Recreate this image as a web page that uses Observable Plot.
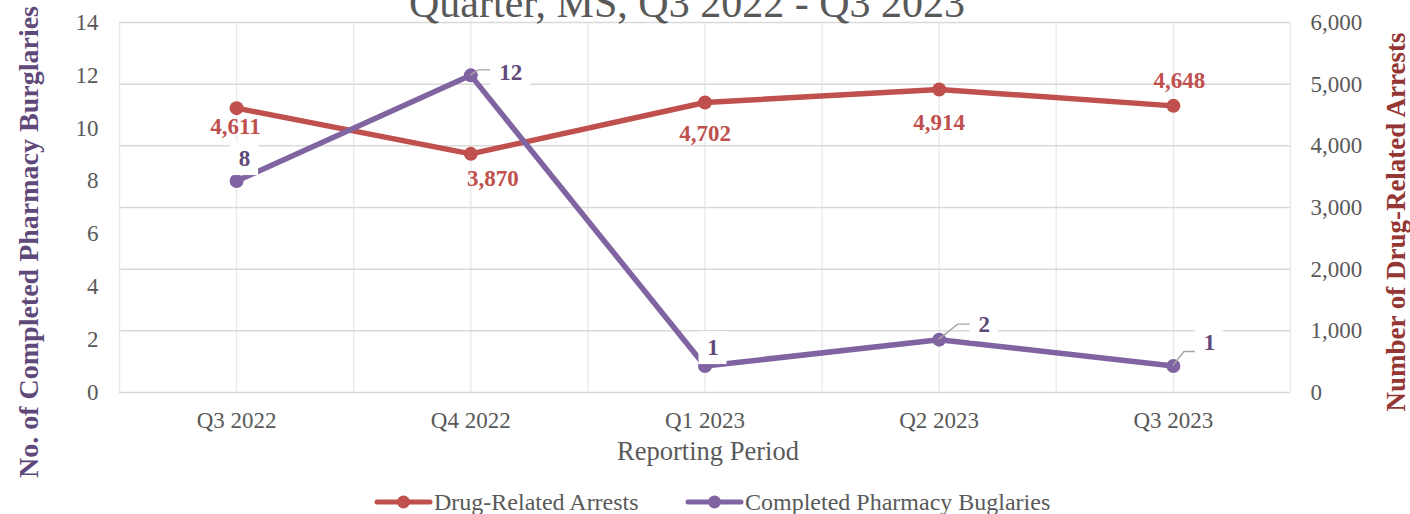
<!DOCTYPE html>
<html><head><meta charset="utf-8">
<script src="https://cdn.jsdelivr.net/npm/d3@7"></script>
<script src="https://cdn.jsdelivr.net/npm/@observablehq/plot@0.6"></script>
<style>body{margin:0;background:#fff}</style>
</head><body><div id="chart"></div>
<script>
const title = "Quarter, MS, Q3 2022 - Q3 2023";
const quarters = ["Q3 2022", "Q4 2022", "Q1 2023", "Q2 2023", "Q3 2023"];
const arrests = [4611, 3870, 4702, 4914, 4648];
const burglaries = [8, 12, 1, 2, 1];
const arrestTicks = [0, 1000, 2000, 3000, 4000, 5000, 6000];
const burglaryTicks = [0, 2, 4, 6, 8, 10, 12, 14];
const arrestMax = 6000, burglaryMax = 14;
const seriesNames = ["Drug-Related Arrests", "Completed Pharmacy Buglaries"];
const leftTitle = "No. of Completed Pharmacy Burglaries";
const rightTitle = "Number of Drug-Related Arrests";
const xTitle = "Reporting Period";
const colors = ["#c0504d", "#8064a2"];

const k = arrestMax / burglaryMax;
const rows = quarters.map((q, i) => ({i, q, a: arrests[i], bv: burglaries[i], b: burglaries[i] * k}));

// label placement offsets (pixels)
const aOff = [[-1, 18], [22, 25], [0, 31], [0, 33], [6, -25]];
const bOff = [[8, -22], [40, -3], [8, -18], [45, -15], [36, -23]];
const leaders = [null, [[8, -5], [20, -5]], null, [[19, -15], [32, -15]], [[11, -14], [23, -14]]];

function decorations(index, {x, y}) {
  const g = d3.create("svg:g");
  rows.forEach((r, i) => {
    const px = x(r.i), py = y(r.b);
    if (leaders[i]) {
      g.append("polyline")
        .attr("points", [[px, py], [px + leaders[i][0][0], py + leaders[i][0][1]], [px + leaders[i][1][0], py + leaders[i][1][1]]].map(p => p.join(",")).join(" "))
        .attr("fill", "none").attr("stroke", "#a6a6a6").attr("stroke-width", 1.4);
    }
    const lx = px + bOff[i][0], ly = py + bOff[i][1];
    const w = 16 + 12 * String(r.bv).length;
    g.append("rect").attr("x", lx - w / 2).attr("y", ly - 16.5).attr("width", w).attr("height", 33).attr("fill", "white");
  });
  return g.node();
}

const fmt = d3.format(",");
const plot = Plot.plot({
  width: 1410, height: 514,
  marginTop: 22, marginBottom: 122, marginLeft: 119, marginRight: 120,
  style: {fontFamily: "'Liberation Serif','Times New Roman',serif", fontSize: "23px", color: "#595959", background: "white", overflow: "visible"},
  x: {domain: [-0.5, quarters.length - 0.5]},
  y: {domain: [0, arrestMax]},
  marks: [
    Plot.gridX(d3.range(-0.5, quarters.length, 0.5), {stroke: "#ebebeb", strokeOpacity: 1, strokeWidth: 1.5}),
    Plot.gridY(arrestTicks, {stroke: "#d9d9d9", strokeOpacity: 1, strokeWidth: 1.5}),
    Plot.axisX(d3.range(quarters.length), {tickSize: 0, tickPadding: 19, tickFormat: i => quarters[i], label: null, fontSize: 23}),
    Plot.axisY(burglaryTicks.map(v => v * k), {anchor: "left", tickSize: 0, tickPadding: 21, tickFormat: v => Math.round(v / k), label: null, fontSize: 23}),
    Plot.axisY(arrestTicks, {anchor: "right", tickSize: 0, tickPadding: 20, tickFormat: fmt, label: null, fontSize: 23}),
    Plot.line(rows, {x: "i", y: "a", stroke: colors[0], strokeWidth: 5.5}),
    Plot.dot(rows, {x: "i", y: "a", r: 7, fill: colors[0]}),
    Plot.line(rows, {x: "i", y: "b", stroke: colors[1], strokeWidth: 5.5}),
    Plot.dot(rows, {x: "i", y: "b", r: 7, fill: colors[1]}),
    decorations,
    ...rows.map((r, i) => Plot.text([r], {x: "i", y: "a", text: d => fmt(d.a), dx: aOff[i][0], dy: aOff[i][1], fill: "#c0504d", fontWeight: "bold", fontSize: 23})),
    ...rows.map((r, i) => Plot.text([r], {x: "i", y: "b", text: d => String(d.bv), dx: bOff[i][0], dy: bOff[i][1], fill: "#5f497a", fontWeight: "bold", fontSize: 23}))
  ]
});

const svg = d3.select(plot);
svg.append("text").attr("x", 687).attr("y", 17).attr("text-anchor", "middle")
  .attr("font-size", 42).attr("fill", "#595959").text(title);
svg.append("text").attr("transform", "translate(38,242) rotate(-90)").attr("text-anchor", "middle")
  .attr("font-size", 28).attr("font-weight", "bold").attr("fill", "#5f497a").text(leftTitle);
svg.append("text").attr("transform", "translate(1405,222) rotate(-90)").attr("text-anchor", "middle")
  .attr("font-size", 27).attr("font-weight", "bold").attr("fill", "#943634").text(rightTitle);
svg.append("text").attr("x", 708).attr("y", 460).attr("text-anchor", "middle")
  .attr("font-size", 26.5).attr("fill", "#595959").text(xTitle);

const legendX = [377, 688];
seriesNames.forEach((name, i) => {
  const g = svg.append("g").attr("transform", `translate(${legendX[i]},502)`);
  g.append("line").attr("x1", 0).attr("x2", 53).attr("stroke", colors[i]).attr("stroke-width", 5).attr("stroke-linecap", "round");
  g.append("circle").attr("cx", 26.5).attr("r", 6.5).attr("fill", colors[i]);
  g.append("text").attr("x", 57).attr("y", 8).attr("text-anchor", "start").attr("font-size", 24).attr("fill", "#595959").text(name);
});

document.getElementById("chart").appendChild(plot);
</script>
</body></html>
